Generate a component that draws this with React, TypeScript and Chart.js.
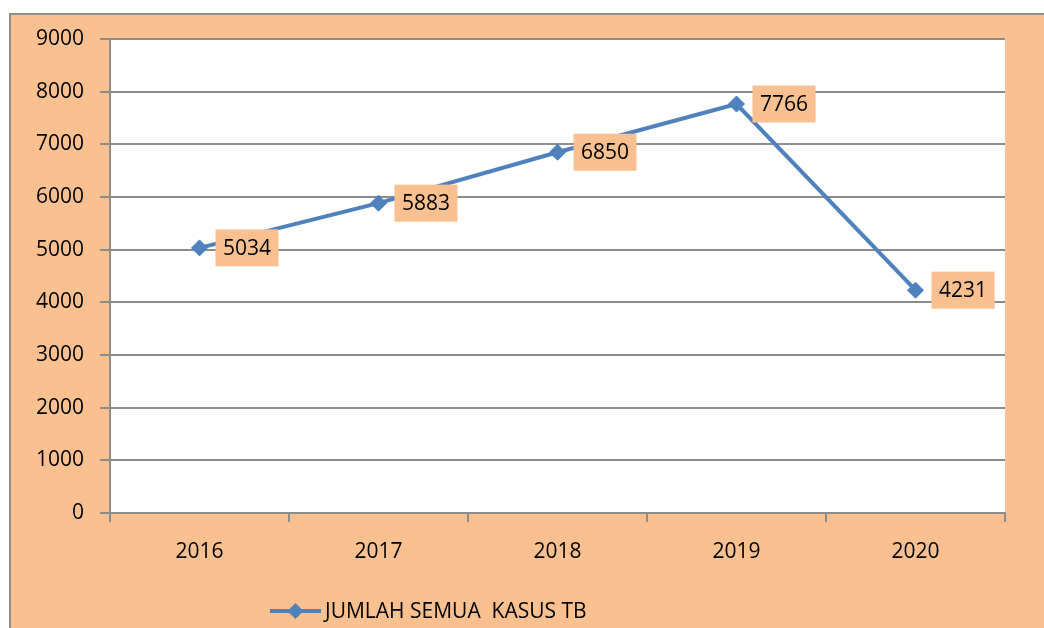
import { useEffect, useRef } from "react";
import { Chart, registerables } from "chart.js";

Chart.register(...registerables);

// ---- data ----
const years: string[] = ["2016", "2017", "2018", "2019", "2020"];
const cases: number[] = [5034, 5883, 6850, 7766, 4231];
const seriesLabel = "JUMLAH SEMUA  KASUS TB";
const yMin = 0;
const yMax = 9000;
const yStep = 1000;

// ---- style ----
const BG = "#FAC090";
const LINE = "#4F81BD";
const GRID = "#8C8C8C";
const TEXT = "#000000";
const FONT_FAMILY = "'Open Sans', sans-serif";
const FONT_SIZE = 21;

const plotBg = {
  id: "plotBg",
  beforeDraw(chart: any) {
    const { ctx, chartArea } = chart;
    ctx.save();
    ctx.fillStyle = "#ffffff";
    ctx.fillRect(chartArea.left, chartArea.top, chartArea.right - chartArea.left, chartArea.bottom - chartArea.top);
    ctx.restore();
  },
};

const dataLabels = {
  id: "dataLabels",
  afterDatasetsDraw(chart: any) {
    const { ctx } = chart;
    const meta = chart.getDatasetMeta(0);
    const values = chart.data.datasets[0].data as number[];
    ctx.save();
    ctx.font = `${FONT_SIZE}px ${FONT_FAMILY}`;
    meta.data.forEach((pt: any, i: number) => {
      const txt = String(values[i]);
      const w = ctx.measureText(txt).width + 15;
      const h = 37;
      const left = pt.x + 16;
      const top = pt.y - h / 2;
      ctx.fillStyle = BG;
      ctx.fillRect(left, top, w, h);
      ctx.fillStyle = TEXT;
      ctx.textAlign = "center";
      ctx.textBaseline = "middle";
      ctx.fillText(txt, left + w / 2, pt.y + 1);
    });
    ctx.restore();
  },
};

const customLegend = {
  id: "customLegend",
  afterDraw(chart: any) {
    const { ctx } = chart;
    const y = 596;
    const x0 = 259;
    const x1 = 310;
    const cx = (x0 + x1) / 2;
    ctx.save();
    ctx.strokeStyle = LINE;
    ctx.lineWidth = 4;
    ctx.beginPath();
    ctx.moveTo(x0, y);
    ctx.lineTo(x1, y);
    ctx.stroke();
    ctx.fillStyle = LINE;
    ctx.beginPath();
    ctx.moveTo(cx - 8, y);
    ctx.lineTo(cx, y - 8);
    ctx.lineTo(cx + 8, y);
    ctx.lineTo(cx, y + 8);
    ctx.closePath();
    ctx.fill();
    ctx.fillStyle = TEXT;
    ctx.font = `${FONT_SIZE}px ${FONT_FAMILY}`;
    ctx.textAlign = "left";
    ctx.textBaseline = "middle";
    ctx.fillText(chart.data.datasets[0].label, x1 + 4, y + 1);
    ctx.restore();
  },
};

export default function App() {
  const canvasRef = useRef<HTMLCanvasElement | null>(null);

  useEffect(() => {
    if (!canvasRef.current) return;
    const chart = new Chart(canvasRef.current, {
      type: "line",
      data: {
        labels: years,
        datasets: [
          {
            label: seriesLabel,
            data: cases,
            borderColor: LINE,
            backgroundColor: LINE,
            borderWidth: 4,
            tension: 0,
            pointStyle: "rectRot",
            pointRadius: 8,
            pointBackgroundColor: LINE,
            pointBorderColor: LINE,
            pointBorderWidth: 1,
          },
        ],
      },
      options: {
        animation: false,
        responsive: true,
        maintainAspectRatio: false,
        layout: { padding: { top: 24, right: 39, left: 0, bottom: 0 } },
        plugins: {
          legend: { display: false },
          tooltip: { enabled: false },
        },
        scales: {
          x: {
            offset: true,
            grid: {
              offset: true,
              drawOnChartArea: false,
              drawTicks: true,
              tickLength: 9,
              color: GRID,
              lineWidth: 2,
            },
            border: { display: true, color: GRID, width: 2 },
            ticks: {
              color: TEXT,
              font: { family: FONT_FAMILY, size: FONT_SIZE },
              padding: 17,
            },
            afterFit: (scale: any) => {
              scale.height = 115;
              scale.paddingLeft = 0;
              scale.paddingRight = 0;
            },
          },
          y: {
            min: yMin,
            max: yMax,
            grid: {
              color: GRID,
              lineWidth: 2,
              tickLength: 10,
            },
            border: { display: true, color: GRID, width: 2 },
            ticks: {
              stepSize: yStep,
              color: TEXT,
              font: { family: FONT_FAMILY, size: FONT_SIZE },
              padding: 16,
              callback: (v: any) => String(v),
            },
            afterFit: (scale: any) => {
              scale.width = 99;
              scale.paddingTop = 0;
              scale.paddingBottom = 0;
            },
          },
        },
      },
      plugins: [plotBg, dataLabels, customLegend],
    });
    return () => chart.destroy();
  }, []);

  return (
    <div
      style={{
        position: "fixed",
        left: 9,
        top: 13,
        width: 1035,
        height: 615,
        boxSizing: "border-box",
        background: BG,
        borderLeft: "2px solid #8F8F8F",
        borderTop: "2px solid #8F8F8F",
      }}
    >
      <canvas ref={canvasRef} />
    </div>
  );
}
